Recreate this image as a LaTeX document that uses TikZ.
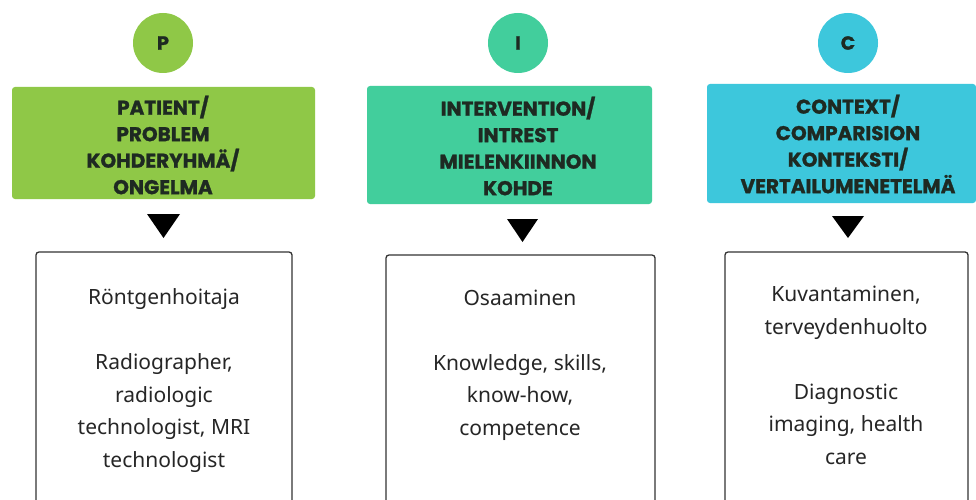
\documentclass[tikz,border=0pt]{standalone}
\usepackage{fontspec}
\setmainfont{Noto Sans}
\newfontfamily\headfont{Poppins}[UprightFont=* Bold, FakeBold=1.2]
\definecolor{pgreen}{HTML}{8FC847}
\definecolor{pteal}{HTML}{42CE9C}
\definecolor{pcyan}{HTML}{3DC7DC}
\definecolor{headtxt}{HTML}{1E2A22}
\definecolor{bodytxt}{HTML}{262626}
\tikzset{
  letter/.style={circle, minimum size=60pt, inner sep=0pt, font=\headfont\fontsize{19}{19}\selectfont, text=headtxt},
  headfill/.style={rounded corners=3pt},
  headbox/.style={inner sep=0pt, font=\headfont\fontsize{20}{26.5}\selectfont, text=headtxt, align=center},
  bodybox/.style={draw=black!80, line width=1.3pt, rounded corners=3pt, fill=white},
  bodytext/.style={font=\fontsize{21}{32.5}\selectfont, text=bodytxt, align=center, anchor=base, inner sep=0pt},
  marker/.style={fill=black}
}
\begin{document}
\begin{tikzpicture}[x=1pt,y=-1pt]
\fill[white] (0,0) rectangle (976,500);
\useasboundingbox (0,0) rectangle (976,500);
\clip (0,0) rectangle (976,500);
% circles
\node[letter, fill=pgreen] (cP) at (163,43) {P};
\node[letter, fill=pteal] (cI) at (518,43) {I};
\node[letter, fill=pcyan] (cC) at (848,43) {C};
% heading boxes
\fill[pgreen, headfill] (12,87) rectangle (315,199);
\fill[pteal, headfill] (367,86) rectangle (652,204);
\fill[pcyan, headfill] (707,84) rectangle (976,203);
\node[headbox] (hP) at (163,145) {PATIENT/\\PROBLEM\\KOHDERYHMÄ/\\ONGELMA};
\node[headbox] (hI) at (518,146) {INTERVENTION/\\INTREST\\MIELENKIINNON\\KOHDE};
\node[headbox] (hC) at (848,144) {CONTEXT/\\COMPARISION\\KONTEKSTI/\\VERTAILUMENETELMÄ};
% markers
\fill[marker] (147,214) -- (180,214) -- (163.5,238) -- cycle;
\fill[marker] (507,219) -- (538,219) -- (522.5,242) -- cycle;
\fill[marker] (832,216) -- (864,216) -- (848,238) -- cycle;
% body boxes
\draw[bodybox] (36,252) rectangle (292,520);
\draw[bodybox] (386,255) rectangle (655,520);
\draw[bodybox] (725,252) rectangle (968,520);
\node[bodytext] (bP) at (164,467) {Röntgenhoitaja\\[32.5pt]Radiographer,\\radiologic\\technologist, MRI\\technologist};
\node[bodytext] (bI) at (520,435) {Osaaminen\\[32.5pt]Knowledge, skills,\\know-how,\\competence};
\node[bodytext] (bC) at (846,464) {Kuvantaminen,\\terveydenhuolto\\[32.5pt]Diagnostic\\imaging, health\\care};
\end{tikzpicture}
\end{document}
